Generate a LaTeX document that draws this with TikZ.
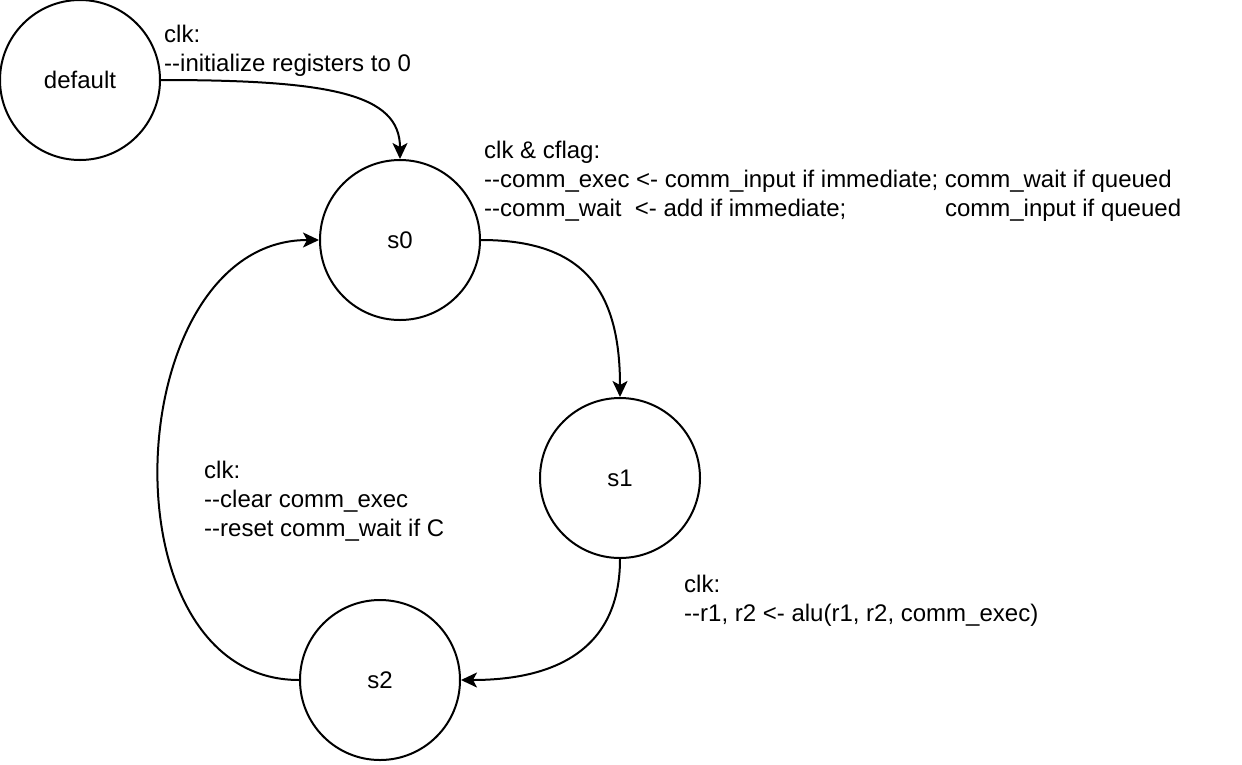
\documentclass[tikz,border=0pt]{standalone}
\usepackage{fontspec}
\usepackage{tikz}
\usetikzlibrary{arrows.meta}
\newfontfamily\lblfont{Liberation Sans}
\newcommand{\txt}{\lblfont\fontsize{24}{28.8}\selectfont}

\begin{document}
\begin{tikzpicture}[x=1pt,y=-1pt,
		state/.style={draw,circle,line width=2pt,minimum size=160pt,inner sep=0pt,font=\txt},
		lbl/.style={anchor=base west,align=left,inner sep=0pt,font=\txt},
		trans/.style={line width=2pt,-{Stealth[length=16pt,width=15pt,inset=4pt]}}]
		\useasboundingbox (0,0) rectangle (1242,764);

		\node[state] (def) at (80,80) {default};
		\node[state] (s0) at (400,240) {s0};
		\node[state] (s1) at (620,478) {s1};
		\node[state] (s2) at (380,680) {s2};

		\draw[trans] (def.east) .. controls +(170,0) and +(0,-65) .. (s0.north);
		\draw[trans] (s0.east) .. controls +(100,0) and +(0,-110) .. (s1.north);
		\draw[trans] (s1.south) .. controls +(0,100) and +(80,0) .. (s2.east);
		\draw[trans] (s2.west) .. controls +(-200,0) and +(-200,0) .. (s0.west);

		% base anchor sits on the last line
		\node[lbl] (init) at (164,71) {clk:\\--initialize registers to 0};
		\node[lbl] (load) at (484,216) {clk \& cflag:\\
			--comm\_exec <- comm\_input if immediate; comm\_wait if queued\\
			\rlap{--comm\_wait\ \ <- add if immediate;}\phantom{--comm\_exec <- comm\_input if immediate; }comm\_input if queued};
		\node[lbl] (alu) at (684,621) {clk:\\--r1, r2 <- alu(r1, r2, comm\_exec)};
		\node[lbl] (clr) at (204,536) {clk:\\--clear comm\_exec\\--reset comm\_wait if C};
\end{tikzpicture}
\end{document}
